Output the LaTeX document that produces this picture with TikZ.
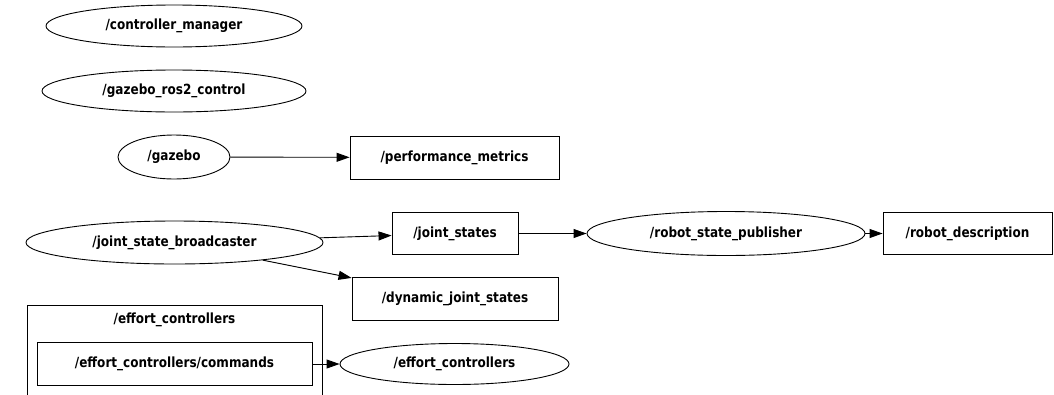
\documentclass[tikz,border=0pt]{standalone}
\usepackage{fontspec}
\setmainfont{DejaVu Sans}[FakeStretch=0.86]
\usetikzlibrary{shapes.geometric,arrows.meta}
\begin{document}
\begin{tikzpicture}[x=1pt,y=-1pt,
  every node/.style={font=\fontsize{14}{16}\selectfont\bfseries, inner sep=0pt, draw, line width=0.9pt},
  rosnode/.style={ellipse, minimum height=42pt},
  topic/.style={rectangle, minimum height=42pt},
  edge/.style={-{Triangle[length=13pt,width=9pt]}, line width=0.9pt}]
\clip (0,0) rectangle (1054,394);

% ROS nodes (ellipses)
\node[rosnode, minimum width=256pt] (cm) at (174,26) {/controller\_manager};
\node[rosnode, minimum width=264pt] (grc) at (174,91) {/gazebo\_ros2\_control};
\node[rosnode, minimum width=112pt, minimum height=44pt] (gz) at (174,157) {/gazebo};
\node[rosnode, minimum width=297pt, minimum height=43pt] (jsb) at (174.5,242.5) {/joint\_state\_broadcaster};
\node[rosnode, minimum width=278pt, minimum height=44pt] (rsp) at (726,233.5) {/robot\_state\_publisher};
\node[rosnode, minimum width=229pt, minimum height=41pt] (ec) at (454.5,364) {/effort\_controllers};

% topics (boxes)
\node[topic, minimum width=209pt, minimum height=43pt] (pm) at (454.5,157.5) {/performance\_metrics};
\node[topic, minimum width=126pt] (js) at (455,233.5) {/joint\_states};
\node[topic, minimum width=206pt, minimum height=43pt] (djs) at (455,298.5) {/dynamic\_joint\_states};
\node[topic, minimum width=169pt] (rd) at (967.5,233.5) {/robot\_description};

% namespace cluster
\node[topic, minimum width=295pt, minimum height=95pt, anchor=north] (cl) at (174.5,305) {};
\node[draw=none] (cllabel) at (174.5,320) {/effort\_controllers};
\node[topic, minimum width=275pt, minimum height=43pt] (cmd) at (174.5,364) {/effort\_controllers/commands};

% connections
\draw[edge] (gz) -- (pm);
\draw[edge] (jsb) -- (js);
\draw[edge] (jsb) -- (djs);
\draw[edge] (js) -- (rsp);
\draw[edge] (rsp) -- (rd);
\draw[edge] (cmd) -- (ec);
\end{tikzpicture}
\end{document}
